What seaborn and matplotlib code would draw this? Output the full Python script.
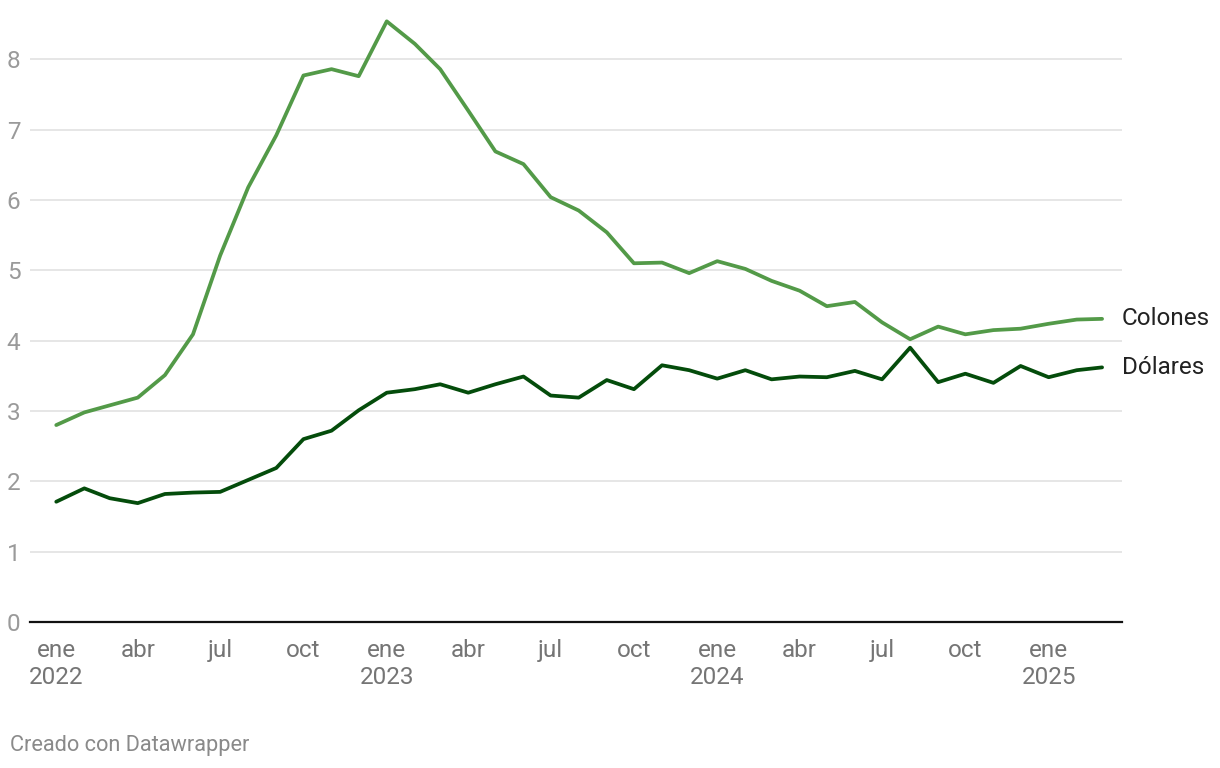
import numpy as np
import pandas as pd
import matplotlib.pyplot as plt
import seaborn as sns

# datos mensuales ene 2022 - mar 2025
fechas = pd.date_range("2022-01-01", periods=39, freq="MS")

colones = [2.80, 2.98, 3.08, 3.19, 3.51, 4.09, 5.21, 6.18, 6.92, 7.77,
           7.86, 7.76, 8.54, 8.22, 7.86, 7.27, 6.69, 6.51, 6.04, 5.85,
           5.54, 5.10, 5.11, 4.96, 5.13, 5.02, 4.85, 4.71, 4.49, 4.55,
           4.26, 4.02, 4.20, 4.09, 4.15, 4.17, 4.24, 4.30, 4.31]
dolares = [1.71, 1.90, 1.76, 1.69, 1.82, 1.84, 1.85, 2.02, 2.19, 2.60,
           2.72, 3.01, 3.26, 3.31, 3.38, 3.26, 3.38, 3.49, 3.22, 3.19,
           3.44, 3.31, 3.65, 3.58, 3.46, 3.58, 3.45, 3.49, 3.48, 3.57,
           3.45, 3.90, 3.41, 3.53, 3.40, 3.64, 3.48, 3.58, 3.62]

series = ["Colones", "Dólares"]
colores = {"Colones": "#539a48", "Dólares": "#044c0b"}

tick_fechas = pd.date_range("2022-01-01", "2025-01-01", freq="3MS")
tick_labels = ["ene\n2022", "abr", "jul", "oct",
               "ene\n2023", "abr", "jul", "oct",
               "ene\n2024", "abr", "jul", "oct",
               "ene\n2025"]

df = pd.DataFrame({
    "fecha": list(fechas) * 2,
    "valor": colones + dolares,
    "serie": [series[0]] * len(colones) + [series[1]] * len(dolares),
})

sns.set_theme(style="white")
plt.rcParams["font.family"] = ["Roboto", "DejaVu Sans"]

fig = plt.figure(figsize=(12.2, 7.68), dpi=100)
ax = fig.add_axes([30 / 1220, 1 - 622 / 768, (1122 - 30) / 1220, (622 - 15) / 768])

sns.lineplot(data=df, x="fecha", y="valor", hue="serie", palette=colores,
             linewidth=2.7, ax=ax, legend=False)

ax.set_xlim(fechas[0] - pd.Timedelta(days=29), fechas[-1] + pd.Timedelta(days=22))
ax.set_ylim(0, 8.63)
ax.set_yticks(range(0, 9))
ax.set_xticks(tick_fechas)
ax.set_xticklabels(tick_labels, linespacing=1.25)
ax.set_xlabel("")
ax.set_ylabel("")

ax.grid(axis="y", color="#e1e1e1", linewidth=1.2)
ax.set_axisbelow(True)
for s in ["top", "right", "left"]:
    ax.spines[s].set_visible(False)
ax.spines["bottom"].set_color("#111111")
ax.spines["bottom"].set_linewidth(1.6)

ax.tick_params(axis="y", length=0, pad=7, labelsize=17.5, labelcolor="#9a9a9a")
ax.tick_params(axis="x", length=0, pad=12, labelsize=17.5, labelcolor="#757575")
for lab in ax.get_yticklabels():
    lab.set_horizontalalignment("right")

# etiquetas al final de cada línea
ax.text(fechas[-1] + pd.Timedelta(days=22), colones[-1], "Colones",
        fontsize=17.5, color="#222222", va="center", ha="left", clip_on=False)
ax.text(fechas[-1] + pd.Timedelta(days=22), dolares[-1], "Dólares",
        fontsize=17.5, color="#222222", va="center", ha="left", clip_on=False)

fig.text(10 / 1220, 1 - 745 / 768, "Creado con Datawrapper", fontsize=15.7,
         color="#8a8a8a", va="center", ha="left")

fig.savefig("out.png", dpi=100)
